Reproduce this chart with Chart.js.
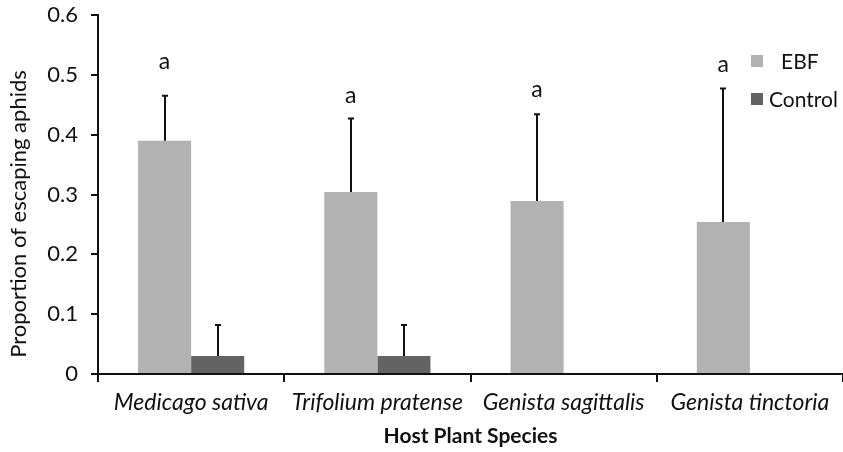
<!DOCTYPE html>
<html><head><meta charset="utf-8">
<script src="https://cdn.jsdelivr.net/npm/chart.js@4"></script>
<style>html,body{margin:0;padding:0;background:#fff}#wrap{width:843px;height:452px;position:relative}</style>
</head><body><div id="wrap"><canvas id="c"></canvas></div>
<script>
const categories = ['Medicago sativa', 'Trifolium pratense', 'Genista sagittalis', 'Genista tinctoria'];
const seriesNames = ['EBF', 'Control'];
const ebfValues = [0.39, 0.304, 0.289, 0.254];
const ebfErrors = [0.075, 0.123, 0.145, 0.223];
const controlValues = [0.03, 0.03, null, null];
const controlErrors = [0.052, 0.052, null, null];
const letterLabels = ['a', 'a', 'a', 'a'];
const letterValues = [0.52, 0.463, 0.474, 0.516];
const yTitle = 'Proportion of escaping aphids';
const xTitle = 'Host Plant Species';

const FONT = 'Lato';
const colors = ['#b2b2b2', '#636363'];
const errors = [ebfErrors, controlErrors];

const errorBarPlugin = {
  id: 'errorBars',
  afterDatasetsDraw(chart) {
    const ctx = chart.ctx;
    const ys = chart.scales.y;
    ctx.save();
    ctx.strokeStyle = '#111';
    ctx.lineWidth = 2;
    chart.data.datasets.forEach((ds, di) => {
      const meta = chart.getDatasetMeta(di);
      meta.data.forEach((bar, i) => {
        const v = ds.data[i];
        const e = errors[di][i];
        if (v == null || e == null) return;
        const top = ys.getPixelForValue(v + e);
        const x = Math.round(bar.x);
        ctx.beginPath();
        ctx.moveTo(x, bar.y);
        ctx.lineTo(x, top);
        ctx.moveTo(x - 3, top);
        ctx.lineTo(x + 3, top);
        ctx.stroke();
      });
    });
    // letters
    const meta0 = chart.getDatasetMeta(0);
    ctx.fillStyle = '#111';
    ctx.font = '23px ' + FONT;
    ctx.textAlign = 'center';
    ctx.textBaseline = 'middle';
    letterLabels.forEach((t, i) => {
      ctx.fillText(t, meta0.data[i].x, ys.getPixelForValue(letterValues[i]) - 1);
    });
    // legend
    ctx.font = '21px ' + FONT;
    ctx.textAlign = 'left';
    seriesNames.forEach((n, i) => {
      const cy = 61 + i * 38;
      ctx.fillStyle = colors[i];
      ctx.fillRect(751, cy - 6, 12, 12);
      ctx.fillStyle = '#111';
      ctx.fillText(n, i === 0 ? 781 : 769, cy + 1);
    });
    // y title
    ctx.save();
    ctx.translate(19, 214);
    ctx.rotate(-Math.PI / 2);
    ctx.textAlign = 'center';
    ctx.font = '22px ' + FONT;
    ctx.fillText(yTitle, 0, 0);
    ctx.restore();
    ctx.restore();
  }
};

new Chart(document.getElementById('c'), {
  type: 'bar',
  data: {
    labels: categories,
    datasets: [
      { label: seriesNames[0], data: ebfValues, backgroundColor: colors[0], borderWidth: 0 },
      { label: seriesNames[1], data: controlValues, backgroundColor: colors[1], borderWidth: 0 }
    ]
  },
  options: {
    responsive: true,
    maintainAspectRatio: false,
    animation: false,
    layout: { padding: { top: 15, right: 0, left: 0, bottom: 0 } },
    plugins: { legend: { display: false }, tooltip: { enabled: false } },
    datasets: { bar: { categoryPercentage: 0.57, barPercentage: 1.0 } },
    scales: {
      x: {
        afterFit: s => { s.height = 78; s.paddingLeft = 0; s.paddingRight = 0; },
        grid: { drawOnChartArea: false, offset: true, tickLength: 8, color: '#111', lineWidth: 2 },
        border: { color: '#111', width: 2 },
        ticks: { color: '#111', font: { family: FONT, size: 23, style: 'italic' }, padding: 7, maxRotation: 0, autoSkip: false },
        title: { display: true, text: xTitle, color: '#111', font: { family: FONT, size: 21, weight: 'bold' }, padding: { top: 0, bottom: 3 } }
      },
      y: {
        min: 0, max: 0.6,
        afterFit: s => { s.width = 98; s.paddingTop = 0; s.paddingBottom = 0; },
        grid: { drawOnChartArea: false, tickLength: 7, color: '#111', lineWidth: 2 },
        border: { color: '#111', width: 2 },
        ticks: { stepSize: 0.1, color: '#111', font: { family: FONT, size: 22 }, padding: 13 }
      }
    }
  },
  plugins: [errorBarPlugin]
});
</script>
</body></html>
